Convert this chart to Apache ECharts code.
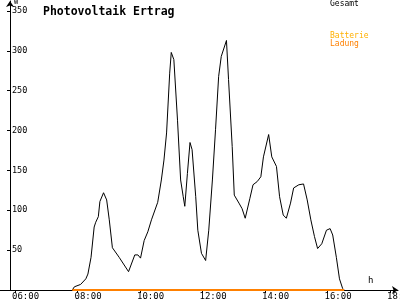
<!DOCTYPE html>
<html><head><meta charset="utf-8">
<script src="https://cdn.jsdelivr.net/npm/echarts@6/dist/echarts.min.js"></script>
<style>html,body{margin:0;padding:0;background:#fff}#c{width:400px;height:300px}</style>
</head><body><div id="c"></div>
<script>
// Data
const times = ["07:50","07:54","08:06","08:16","08:20","08:26","08:32","08:35","08:40","08:43","08:50","08:56","09:01","09:07","09:20","09:38","09:50","09:56","10:01","10:08","10:15","10:22","10:34","10:41","10:46","10:51","10:57","11:00","11:05","11:12","11:18","11:23","11:26","11:31","11:36","11:40","11:47","11:51","11:58","12:06","12:12","12:19","12:25","12:31","12:36","12:46","12:50","12:57","13:01","13:10","13:16","13:22","13:31","13:37","13:45","13:52","13:57","14:07","14:13","14:22","14:28","14:35","14:41","14:49","14:55","15:05","15:14","15:21","15:28","15:35","15:41","15:49","15:58","16:05","16:10","16:17","16:23","16:29","16:32"];
const gesamt = [0,4,7,14,20,41,79,85,92,111,122,113,88,53,41,23,44,44,40,62,73,88,110,138,163,197,272,298,289,213,138,117,105,146,185,176,117,75,46,37,75,138,201,268,293,313,264,180,119,109,102,90,115,132,136,142,167,195,167,155,117,94,90,109,128,132,133,113,88,67,52,58,75,77,69,41,14,2,0];
const ladungTimes = ["07:50","16:32"];
const ladung = [0,0];
const xTicks = ["06:00","08:00","10:00","12:00","14:00","16:00","18:00"];
const yTicks = [50,100,150,200,250,300,350];

const toH = s => { const p = s.split(":"); return +p[0] + (+p[1]) / 60; };
const fmt = v => String(Math.round(v)).padStart(2, "0") + ":00";
const mono = "DejaVu Sans Mono";

const chart = echarts.init(document.getElementById("c"), null, {renderer: "canvas"});
chart.setOption({
  backgroundColor: "#fff",
  animation: false,
  title: {
    text: "Photovoltaik Ertrag", left: 38, top: 1,
    textStyle: {fontFamily: mono, fontWeight: "bold", fontSize: 11.5, color: "#000"}
  },
  graphic: [
    {type: "text", left: 330, top: 0, style: {text: "Gesamt", fontFamily: mono, fontSize: 8, fill: "#000"}},
    {type: "text", left: 330, top: 32, style: {text: "Batterie", fontFamily: mono, fontSize: 8, fill: "#ffb000"}},
    {type: "text", left: 330, top: 40, style: {text: "Ladung", fontFamily: mono, fontSize: 8, fill: "#ff8000"}},
    {type: "text", left: 14, top: -1, style: {text: "W", fontFamily: mono, fontSize: 7, fill: "#000"}},
    {type: "text", left: 368, top: 276, style: {text: "h", fontFamily: mono, fontSize: 9, fill: "#000"}}
  ],
  grid: {left: 0, right: 2, top: 1, bottom: 10, containLabel: false, outerBoundsMode: "none"},
  xAxis: {
    type: "value", min: 6 - 15 / 31.25, max: 18 + 8 / 31.25,
    splitLine: {show: false},
    axisLine: {lineStyle: {color: "#000", width: 1}, symbol: ["none", "arrow"], symbolSize: [6, 6]},
    axisTick: {customValues: xTicks.map(toH), length: 3, lineStyle: {color: "#000"}},
    axisLabel: {customValues: xTicks.map(toH), formatter: fmt, align: "left", padding: [0, 0, 0, -3], margin: 2,
      fontFamily: mono, fontSize: 9, color: "#000", hideOverlap: false}
  },
  yAxis: {
    type: "value", min: 0, max: 362.5, offset: -10,
    splitLine: {show: false},
    axisLine: {show: true, lineStyle: {color: "#000", width: 1}, symbol: ["none", "arrow"], symbolSize: [6, 6]},
    axisTick: {customValues: yTicks, length: 3, lineStyle: {color: "#000"}},
    axisLabel: {customValues: yTicks, inside: true, margin: 2, fontFamily: mono, fontSize: 8.5, color: "#000"}
  },
  series: [
    {name: "Gesamt", type: "line", data: times.map((t, i) => [toH(t), gesamt[i]]),
      showSymbol: false, lineStyle: {color: "#000", width: 1}, itemStyle: {color: "#000"}, z: 3},
    {name: "Ladung", type: "line", data: ladungTimes.map((t, i) => [toH(t), ladung[i]]),
      showSymbol: false, lineStyle: {color: "#ff8000", width: 2}, itemStyle: {color: "#ff8000"}, z: 4}
  ]
});
</script></body></html>
